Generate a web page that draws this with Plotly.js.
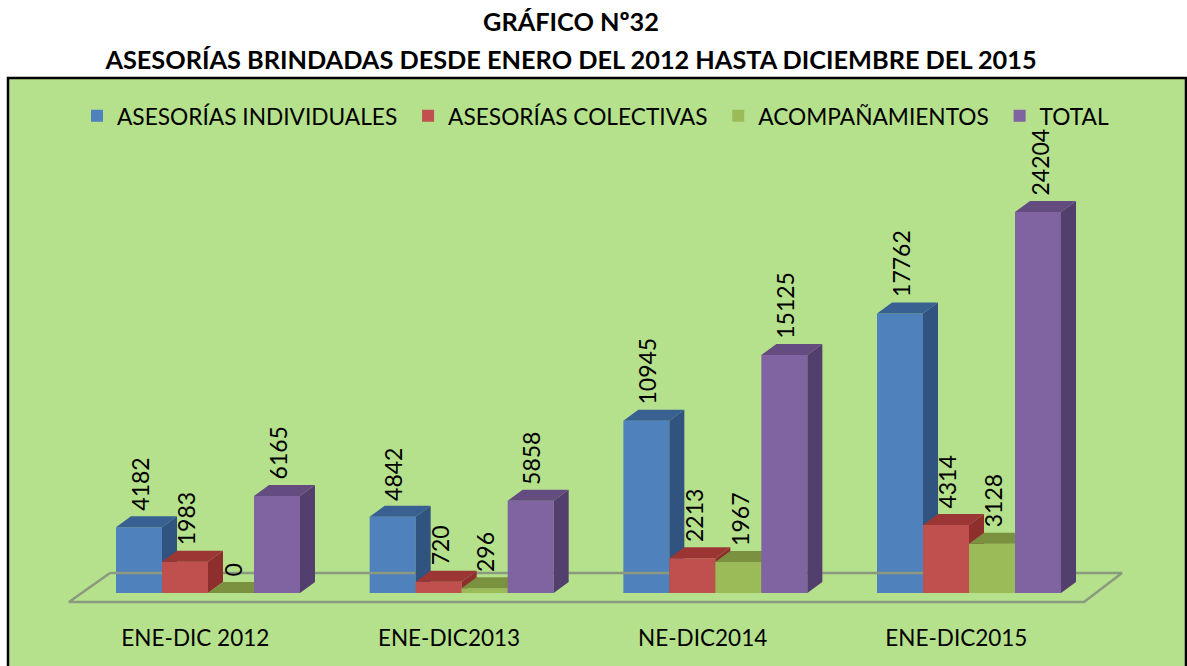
<!DOCTYPE html>
<html>
<head>
<meta charset="utf-8">
<script src="https://cdn.plot.ly/plotly-3.0.1.min.js"></script>
<style>html,body{margin:0;padding:0;background:#fff;overflow:hidden}#chart{width:1187px;height:666px}</style>
</head>
<body>
<div id="chart"></div>
<script>
const categories = ["ENE-DIC 2012", "ENE-DIC2013", "NE-DIC2014", "ENE-DIC2015"];
const individuales = [4182, 4842, 10945, 17762];
const colectivas = [1983, 720, 2213, 4314];
const acompanamientos = [0, 296, 1967, 3128];
const total = [6165, 5858, 15125, 24204];
const seriesNames = ["ASESORÍAS INDIVIDUALES", "ASESORÍAS COLECTIVAS", "ACOMPAÑAMIENTOS", "TOTAL"];
const seriesValues = [individuales, colectivas, acompanamientos, total];
const frontColors = ["#4f81bd", "#c0504d", "#9bbb59", "#8064a2"];
const sideColors = ["#30537f", "#8f2f2d", "#6f8a3a", "#533f6d"];
const topColors = ["#386192", "#9c3635", "#7a9140", "#644b80"];
const FONT = "Lato, Carlito, Calibri, sans-serif";

// page geometry
const W = 1187, H = 666, plotBottom = 610, baseY = 593;
const groupPx = 253.67, firstCenterPx = 208, barPx = 46, depthXPx = 15, depthYPx = 11;
const unitsPerPx = 24204 / 381;
const xr = [-firstCenterPx / groupPx, (W - firstCenterPx) / groupPx];
const yr = [-(plotBottom - baseY) * unitsPerPx, baseY * unitsPerPx];
const bw = barPx / groupPx, dx = depthXPx / groupPx, dy = depthYPx * unitsPerPx;
const px2x = p => (p - firstCenterPx) / groupPx;
const px2y = p => (baseY - p) * unitsPerPx;

const traces = [];
// floor
const floorPx = [[110, 573], [1122, 573], [1084, 602], [69, 602], [110, 573]];
traces.push({
  x: floorPx.map(p => px2x(p[0])), y: floorPx.map(p => px2y(p[1])),
  type: "scatter", mode: "lines", line: {color: "#8b9a7e", width: 2.5},
  showlegend: false, hoverinfo: "skip", xaxis: "x", yaxis: "y"
});

const annotations = [];
seriesValues.forEach((vals, k) => {
  const xa = k === 0 ? "x" : "x" + (k + 1), ya = k === 0 ? "y" : "y" + (k + 1);
  const off = -2 * bw + k * bw;
  traces.push({
    type: "bar", name: seriesNames[k] + "\u00a0", x: [0, 1, 2, 3], y: vals, width: bw, offset: off,
    marker: {color: frontColors[k], line: {width: 0}}, xaxis: xa, yaxis: ya,
    hovertemplate: "%{y}<extra>" + seriesNames[k] + "</extra>"
  });
  const sx = [], sy = [], tx = [], ty = [];
  vals.forEach((v, i) => {
    const x1 = i + off + bw;
    const x0 = i + off;
    sx.push(x1, x1 + dx, x1 + dx, x1, x1, null);
    sy.push(0, dy, v + dy, v, 0, null);
    tx.push(x0, x0 + dx, x1 + dx, x1, x0, null);
    ty.push(v, v + dy, v + dy, v, v, null);
    annotations.push({
      x: i + off + bw / 2, y: v, xref: "x", yref: "y",
      text: String(v), textangle: -90, showarrow: false, yanchor: "bottom", xanchor: "center",
      yshift: 14, xshift: 1, font: {family: FONT, size: 23, color: "#000"}
    });
  });
  traces.push({x: sx, y: sy, type: "scatter", mode: "none", fill: "toself", fillcolor: sideColors[k],
    showlegend: false, hoverinfo: "skip", xaxis: xa, yaxis: ya});
  traces.push({x: tx, y: ty, type: "scatter", mode: "none", fill: "toself", fillcolor: topColors[k],
    showlegend: false, hoverinfo: "skip", xaxis: xa, yaxis: ya});
});

const hiddenX = {range: xr, overlaying: "x", visible: false, fixedrange: true};
const hiddenY = {range: yr, overlaying: "y", visible: false, fixedrange: true};

const layout = {
  width: W, height: H,
  margin: {l: 0, r: 0, t: 0, b: H - plotBottom, pad: 0},
  paper_bgcolor: "#ffffff", plot_bgcolor: "rgba(0,0,0,0)",
  showlegend: true,
  title: {
    text: '<b><span style="font-size:25.3px">GRÁFICO Nº32<br>ASESORÍAS BRINDADAS DESDE ENERO DEL 2012 HASTA DICIEMBRE DEL 2015</span></b>',
    font: {family: FONT, size: 29, color: "#000"},
    x: 571 / W, xanchor: "center", y: 1 - 31 / H, yanchor: "middle"
  },
  legend: {
    orientation: "h", x: 77 / W, xanchor: "left", y: 1 - 116 / plotBottom, yanchor: "middle",
    font: {family: FONT, size: 22.7, color: "#000"}, bgcolor: "rgba(0,0,0,0)", traceorder: "normal"
  },
  xaxis: {
    range: xr, tickmode: "array", tickvals: [-0.05, 0.95, 1.95, 2.95], ticktext: categories,
    showgrid: false, zeroline: false, showline: false, ticks: "", ticklabelstandoff: 12,
    tickfont: {family: FONT, size: 22.5, color: "#000"}, fixedrange: true
  },
  yaxis: {range: yr, visible: false, fixedrange: true},
  xaxis2: hiddenX, xaxis3: hiddenX, xaxis4: hiddenX,
  yaxis2: hiddenY, yaxis3: hiddenY, yaxis4: hiddenY,
  shapes: [{
    type: "rect", xref: "paper", yref: "paper", layer: "below",
    x0: 8 / W, x1: 1186 / W, y0: (plotBottom - 680) / plotBottom, y1: (plotBottom - 78) / plotBottom,
    fillcolor: "#b5e08c", line: {color: "#000", width: 2.5}
  }],
  annotations: annotations
};
Plotly.newPlot("chart", traces, layout, {displayModeBar: false, responsive: false});
</script>
</body>
</html>
